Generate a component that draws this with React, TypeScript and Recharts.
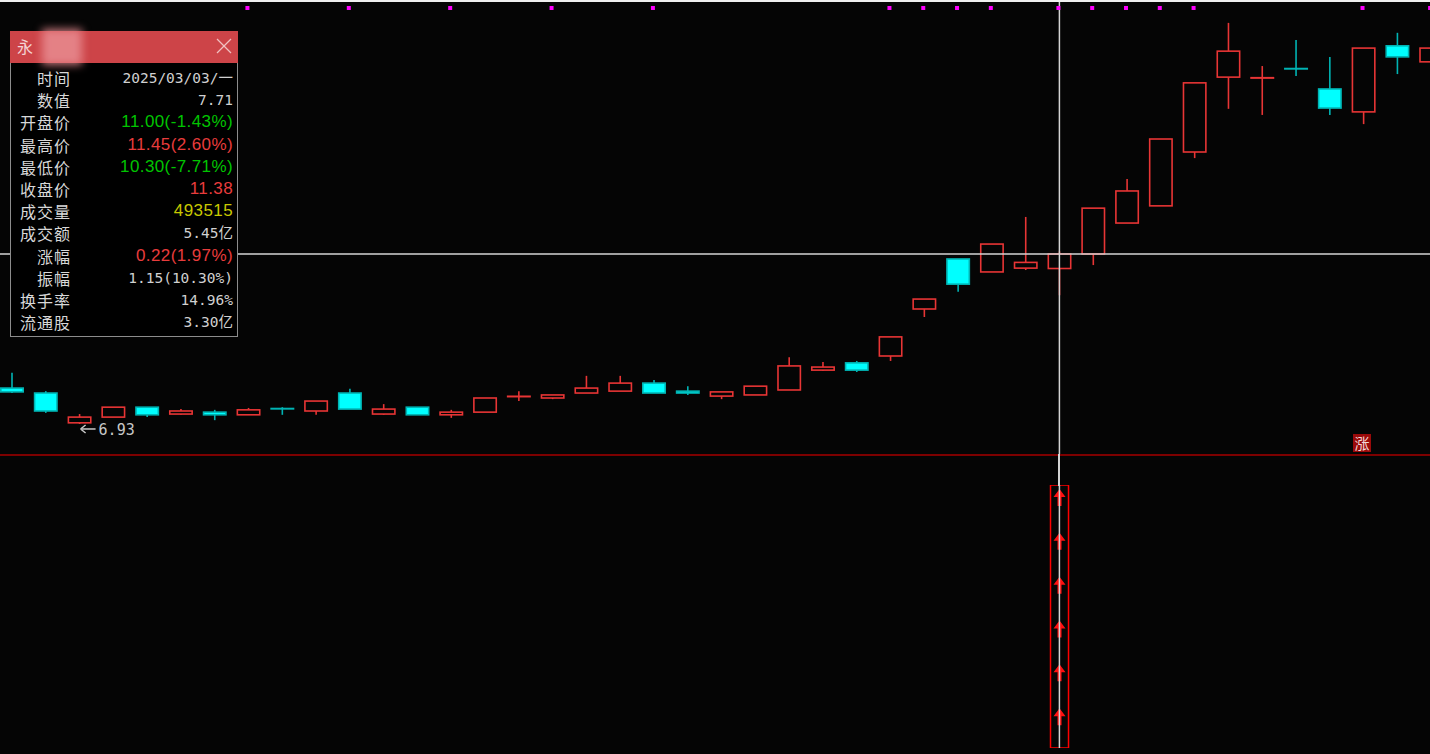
import React from 'react';
import { ComposedChart, Bar, Scatter, XAxis, YAxis, ReferenceLine } from 'recharts';

// trading days, 2025
const dates = [
  '01/09', '01/10', '01/13', '01/14', '01/15', '01/16', '01/17', '01/20', '01/21', '01/22',
  '01/23', '01/24', '01/27', '02/05', '02/06', '02/07', '02/10', '02/11', '02/12', '02/13',
  '02/14', '02/17', '02/18', '02/19', '02/20', '02/21', '02/24', '02/25', '02/26', '02/27',
  '02/28', '03/03', '03/04', '03/05', '03/06', '03/07', '03/10', '03/11', '03/12', '03/13',
  '03/14', '03/17', '03/18',
];

const opens = [
  7.87, 7.74, 6.96, 7.11, 7.37, 7.19, 7.24, 7.17, 7.33, 7.27,
  7.74, 7.19, 7.37, 7.17, 7.24, 7.62, 7.61, 7.74, 7.79, 8.0,
  7.79, 7.66, 7.69, 7.82, 8.34, 8.53, 8.71, 9.94, 11.25, 10.91,
  11.01, 11.0, 11.38, 12.19, 12.64, 14.05, 16.01, 15.96, 16.23, 15.7,
  15.1, 16.83, 16.41,
];
const highs = [
  8.27, 7.79, 7.19, 7.37, 7.37, 7.32, 7.3, 7.35, 7.37, 7.53,
  7.85, 7.45, 7.37, 7.3, 7.61, 7.79, 7.69, 8.19, 8.19, 8.08,
  7.92, 7.77, 7.92, 8.68, 8.55, 8.58, 9.21, 10.2, 11.25, 11.64,
  12.35, 11.45, 12.58, 13.34, 14.39, 15.86, 17.43, 16.3, 16.98, 16.54,
  16.77, 17.17, 16.77,
];
const lows = [
  7.74, 7.22, 6.93, 7.11, 7.11, 7.17, 7.03, 7.17, 7.17, 7.17,
  7.32, 7.17, 7.17, 7.09, 7.24, 7.53, 7.58, 7.74, 7.79, 7.74,
  7.69, 7.58, 7.69, 7.82, 8.32, 8.29, 8.58, 9.73, 10.39, 10.91,
  10.96, 10.3, 11.09, 12.19, 12.64, 13.89, 15.18, 15.02, 16.04, 15.02,
  14.78, 16.09, 16.41,
];
const closes = [
  7.77, 7.27, 7.11, 7.37, 7.17, 7.27, 7.17, 7.3, 7.32, 7.53,
  7.32, 7.32, 7.17, 7.24, 7.61, 7.65, 7.69, 7.87, 8.0, 7.74,
  7.74, 7.77, 7.92, 8.45, 8.42, 8.34, 9.21, 10.2, 10.59, 11.64,
  11.16, 11.38, 12.58, 13.03, 14.39, 15.86, 16.69, 15.99, 16.22, 15.2,
  16.77, 16.54, 16.77,
];

// purple dots along the top
const signalDates = [
  '01/20', '01/23', '02/05', '02/10', '02/13', '02/24', '02/25', '02/26', '02/27',
  '03/03', '03/04', '03/05', '03/06', '03/07', '03/14', '03/18',
];
const markLevel = 17.82;

// lower panel: arrow column
const alertDates = ['03/03'];
const alertCount = 6;

const crossDate = '03/03';
const crossPrice = 11.38;
const yDomain = [6.118, 18.029];

const infoLabels = ['时间', '数值', '开盘价', '最高价', '最低价', '收盘价', '成交量', '成交额', '涨幅', '振幅', '换手率', '流通股'];
const infoValues = ['2025/03/03/一', '7.71', '11.00(-1.43%)', '11.45(2.60%)', '10.30(-7.71%)', '11.38', '493515', '5.45亿', '0.22(1.97%)', '1.15(10.30%)', '14.96%', '3.30亿'];
const infoColors = ['#d0d0d0', '#d0d0d0', '#00c400', '#e83c3c', '#00c400', '#e83c3c', '#c8c800', '#d0d0d0', '#e83c3c', '#d0d0d0', '#d0d0d0', '#d0d0d0'];
const infoMono = [true, true, false, false, false, false, false, true, false, true, true, true];

const UP = '#e83535';
const DOWN = '#00ffff';
const DOWN_EDGE = '#00b4b4';

const rows = dates.map((d, i) => ({
  date: d,
  open: opens[i],
  high: highs[i],
  low: lows[i],
  close: closes[i],
  range: [lows[i], highs[i]],
  mark: signalDates.includes(d) ? markLevel : null,
  alert: alertDates.includes(d) ? alertCount : null,
}));

const minLow = Math.min(...lows);

const renderCandle = (props: any) => {
  const { x, y, width, height, payload } = props;
  if (!payload || y == null || height == null) return <g />;
  const { open, close, high, low } = payload;
  const top = Math.min(y, y + height);
  const span = Math.abs(height);
  const k = high === low ? 0 : span / (high - low);
  const py = (v: number) => top + (high - v) * k;
  const cx = x + width / 2;
  const up = close > open;
  const bTop = py(Math.max(open, close));
  const bBot = py(Math.min(open, close));
  const edge = up ? UP : DOWN_EDGE;
  const parts: React.ReactNode[] = [];

  if (bBot - bTop < 1.2) {
    // doji / cross
    parts.push(<line key="w" x1={cx} x2={cx} y1={py(high)} y2={py(low)} stroke={edge} strokeWidth={1.6} />);
    parts.push(<line key="b" x1={x} x2={x + width} y1={bTop} y2={bTop} stroke={edge} strokeWidth={2} />);
  } else {
    parts.push(<line key="u" x1={cx} x2={cx} y1={py(high)} y2={bTop} stroke={edge} strokeWidth={1.6} />);
    parts.push(<line key="l" x1={cx} x2={cx} y1={bBot} y2={py(low)} stroke={edge} strokeWidth={1.6} />);
    parts.push(
      <rect
        key="r"
        x={x + 0.8}
        y={bTop}
        width={width - 1.6}
        height={bBot - bTop}
        fill={up ? '#050505' : DOWN}
        stroke={edge}
        strokeWidth={1.6}
      />
    );
  }

  if (low === minLow) {
    const ly = py(low) + 5;
    parts.push(
      <g key="min">
        <line x1={cx + 2} x2={cx + 16} y1={ly} y2={ly} stroke="#c8c8c8" strokeWidth={1.5} />
        <path d={`M${cx + 1},${ly} L${cx + 6},${ly - 4} M${cx + 1},${ly} L${cx + 6},${ly + 4}`} stroke="#c8c8c8" strokeWidth={1.5} fill="none" />
        <text x={cx + 19} y={ly + 6} fill="#c8c8c8" fontSize={15} fontFamily="DejaVu Sans Mono">
          {low.toFixed(2)}
        </text>
      </g>
    );
  }
  return <g>{parts}</g>;
};

const renderMark = (props: any) => {
  const { cx, cy, payload } = props;
  if (!payload || payload.mark == null || !isFinite(cx) || !isFinite(cy)) return <g />;
  return <rect x={cx - 3} y={cy - 2} width={4} height={4} fill="#ff00ff" />;
};

const renderAlert = (props: any) => {
  const { x, y, width, height, payload } = props;
  if (!payload || payload.alert == null || !height) return <g />;
  const top = Math.min(y, y + height);
  const h = Math.abs(height);
  const step = h / payload.alert;
  const cx = x + width / 2;
  const arrows = Array.from({ length: payload.alert }, (_, i) => {
    const t = top + 4 + i * step;
    return (
      <path
        key={i}
        d={`M${cx},${t} L${cx + 6},${t + 8} L${cx + 2},${t + 8} L${cx + 2},${t + 17} L${cx - 2},${t + 17} L${cx - 2},${t + 8} L${cx - 6},${t + 8} Z`}
        fill="#ff1010"
      />
    );
  });
  return (
    <g>
      <rect x={x} y={top} width={width} height={h} fill="none" stroke="#ff0000" strokeWidth={1.5} />
      {arrows}
    </g>
  );
};

const InfoPanel = () => (
  <div
    style={{
      position: 'absolute',
      left: 10,
      top: 31,
      width: 228,
      height: 306,
      background: '#000',
      border: '1px solid #8c8c8c',
      boxSizing: 'border-box',
    }}
  >
    <div style={{ position: 'absolute', left: -1, top: -1, width: 228, height: 32, background: '#cd4448' }}>
      <span
        style={{
          position: 'absolute',
          left: 7,
          top: 5,
          color: '#f4d4d4',
          fontSize: 16,
          fontFamily: '"Noto Sans CJK SC"',
          lineHeight: '20px',
        }}
      >
        永
      </span>
      <div
        style={{
          position: 'absolute',
          left: 32,
          top: -2,
          width: 40,
          height: 36,
          background: 'rgba(232,140,145,0.85)',
          filter: 'blur(4px)',
        }}
      />
      <svg width={16} height={16} style={{ position: 'absolute', left: 206, top: 7 }}>
        <line x1={1} y1={1} x2={15} y2={15} stroke="#f0c0c0" strokeWidth={1.2} />
        <line x1={15} y1={1} x2={1} y2={15} stroke="#f0c0c0" strokeWidth={1.2} />
      </svg>
    </div>
    {infoLabels.map((lab, i) => (
      <div key={lab} style={{ position: 'absolute', left: 0, top: 35 + i * 22.2, width: 226, height: 22, lineHeight: '22px' }}>
        <span
          style={{
            position: 'absolute',
            right: 166,
            color: '#d8d8d8',
            fontSize: 16,
            letterSpacing: 1,
            fontFamily: '"Noto Sans CJK SC"',
            whiteSpace: 'nowrap',
          }}
        >
          {lab}
        </span>
        <span
          style={{
            position: 'absolute',
            right: 4,
            color: infoColors[i],
            fontSize: infoMono[i] ? 14.5 : 17,
            letterSpacing: infoMono[i] ? 0 : 0.4,
            fontFamily: infoMono[i] ? '"DejaVu Sans Mono", "Noto Sans CJK SC"' : '"Liberation Sans", "Noto Sans CJK SC"',
            whiteSpace: 'nowrap',
          }}
        >
          {infoValues[i]}
        </span>
      </div>
    ))}
  </div>
);

export default function App() {
  return (
    <div
      style={{
        position: 'relative',
        width: 1430,
        height: 754,
        background: '#050505',
        overflow: 'hidden',
      }}
    >
      <style>{'body{margin:0;background:#050505}'}</style>

      <div style={{ position: 'absolute', left: -5, top: 0 }}>
        <ComposedChart width={1453} height={455} data={rows} margin={{ top: 0, right: 0, bottom: 0, left: 0 }}>
          <XAxis dataKey="date" hide />
          <YAxis hide type="number" domain={yDomain} allowDataOverflow />
          <Bar dataKey="range" barSize={24} shape={renderCandle} isAnimationActive={false} />
          <Scatter dataKey="mark" shape={renderMark} isAnimationActive={false} />
          <ReferenceLine y={crossPrice} stroke="#d4d4d4" strokeWidth={1.5} />
          <ReferenceLine x={crossDate} stroke="#d4d4d4" strokeWidth={1.5} />
        </ComposedChart>
      </div>

      <div style={{ position: 'absolute', left: 0, top: 454, width: 1430, height: 2, background: '#7d0000' }} />

      <div style={{ position: 'absolute', left: -5, top: 456 }}>
        <ComposedChart width={1453} height={298} data={rows} margin={{ top: 29, right: 0, bottom: 6, left: 0 }}>
          <XAxis dataKey="date" hide />
          <YAxis hide type="number" domain={[0, alertCount]} allowDataOverflow />
          <Bar dataKey="alert" barSize={18} shape={renderAlert} isAnimationActive={false} />
          <ReferenceLine x={crossDate} stroke="#d4d4d4" strokeWidth={1.5} />
        </ComposedChart>
      </div>
      <div style={{ position: 'absolute', left: 1058, top: 454, width: 1.5, height: 32, background: '#d4d4d4' }} />

      <div
        style={{
          position: 'absolute',
          left: 1353,
          top: 434,
          width: 18,
          height: 18,
          background: '#9a0a0a',
          color: '#f2d8d8',
          fontSize: 15,
          lineHeight: '18px',
          textAlign: 'center',
          fontFamily: '"Noto Sans CJK SC"',
        }}
      >
        涨
      </div>

      <InfoPanel />

      <div style={{ position: 'absolute', left: 0, top: 0, width: 1430, height: 2, background: '#f0f0f0' }} />
    </div>
  );
}
